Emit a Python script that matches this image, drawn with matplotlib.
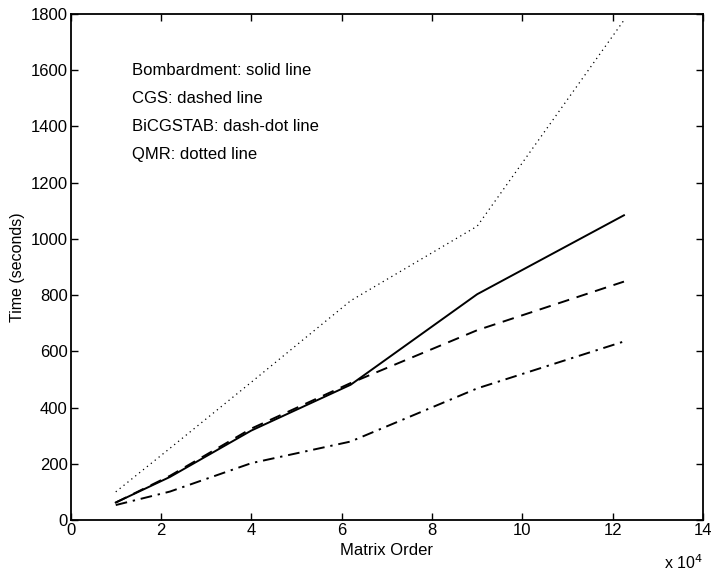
import matplotlib
matplotlib.use('Agg')
import matplotlib.pyplot as plt

# matrix order (x 10^4)
order = [1.0, 2.2, 4.0, 6.2, 9.0, 12.25]
bombardment = [62, 153, 318, 481, 803, 1084]
cgs = [62, 157, 325, 487, 675, 848]
bicgstab = [53, 101, 202, 279, 468, 635]
qmr = [100, 255, 490, 780, 1045, 1778]

notes = ['Bombardment: solid line', 'CGS: dashed line',
         'BiCGSTAB: dash-dot line', 'QMR: dotted line']

plt.rcParams['font.family'] = ['Liberation Sans', 'DejaVu Sans']

fig = plt.figure(figsize=(7.13, 5.72), dpi=100)
ax = fig.add_axes([0.099, 0.091, 0.887, 0.8845])

ax.plot(order, bombardment, color='black', lw=1.4, linestyle='-')
ax.plot(order, cgs, color='black', lw=1.4, linestyle=(0, (6, 4)))
ax.plot(order, bicgstab, color='black', lw=1.4, linestyle=(0, (6, 3, 1.2, 3)))
ax.plot(order, qmr, color='black', lw=0.9, linestyle=(0, (1, 3)))

ax.set_xlim(0, 14)
ax.set_ylim(0, 1800)
ax.set_xticks(range(0, 15, 2))
ax.set_yticks(range(0, 1801, 200))
ax.tick_params(direction='in', top=True, right=True, length=5, width=1,
               labelsize=12, pad=2)
for s in ax.spines.values():
    s.set_linewidth(1.3)

ax.set_xlabel('Matrix Order', fontsize=12, labelpad=4)
ax.set_ylabel('Time (seconds)', fontsize=11.5, labelpad=4)

for i, t in enumerate(notes):
    ax.text(1.35, 1600 - 100 * i, t, fontsize=12, va='center', ha='left')

ax.text(1.0, -0.085, r'x 10$^4$', transform=ax.transAxes, fontsize=11.5,
        ha='right', va='center')

fig.savefig('out.png', dpi=100, facecolor='white')
